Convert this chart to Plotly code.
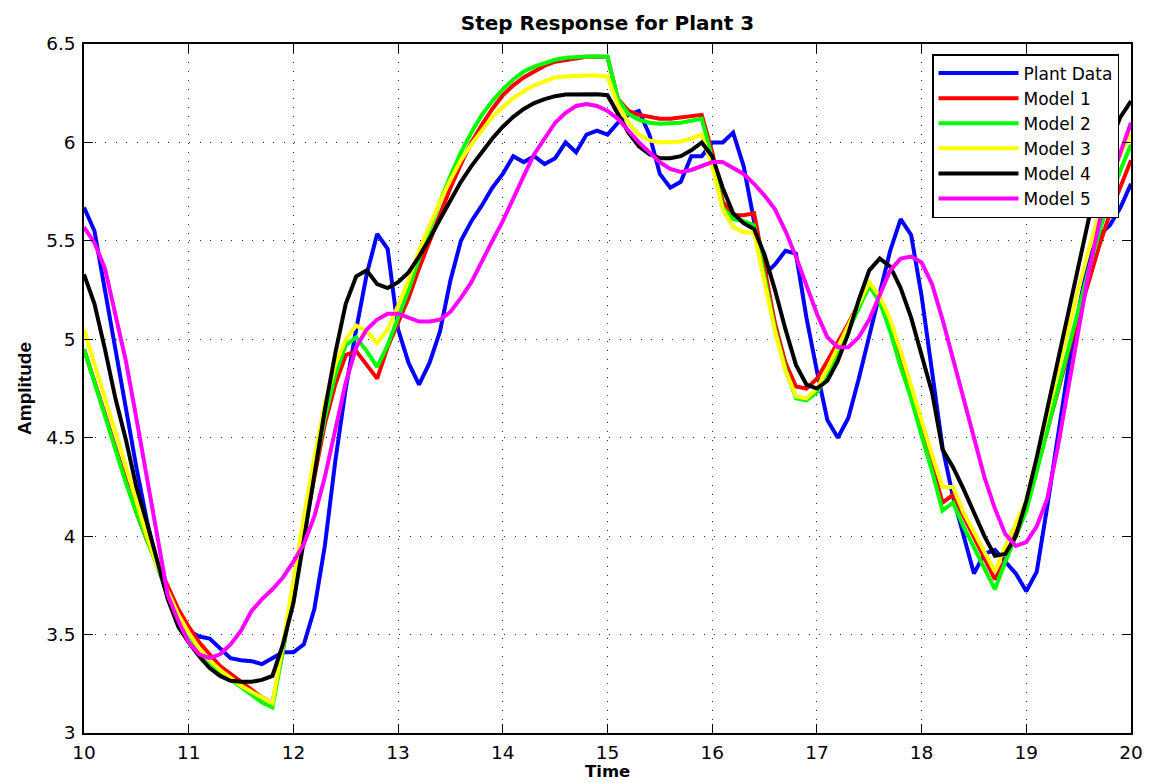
import numpy as np
import plotly.graph_objects as go

time = np.round(np.arange(101) * 0.1 + 10.0, 1)

plant_data = [5.67, 5.55, 5.25, 4.95, 4.65, 4.35, 4.08, 3.85, 3.70, 3.60,
              3.52, 3.49, 3.48, 3.43, 3.38, 3.37, 3.365, 3.35, 3.38, 3.41,
              3.41, 3.45, 3.63, 3.95, 4.38, 4.75, 5.05, 5.33, 5.535, 5.46,
              5.05, 4.88, 4.77, 4.88, 5.04, 5.30, 5.50, 5.60, 5.68, 5.77,
              5.84, 5.93, 5.90, 5.93, 5.89, 5.92, 6.00, 5.95, 6.04, 6.06,
              6.04, 6.10, 6.14, 6.16, 6.04, 5.84, 5.77, 5.80, 5.93, 5.93,
              6.00, 6.00, 6.05, 5.88, 5.60, 5.33, 5.38, 5.45, 5.435, 5.11,
              4.84, 4.59, 4.50, 4.60, 4.80, 5.02, 5.25, 5.45, 5.61, 5.53,
              5.22, 4.83, 4.45, 4.20, 4.00, 3.81, 3.91, 3.93, 3.87, 3.81,
              3.72, 3.82, 4.15, 4.50, 4.85, 5.15, 5.42, 5.53, 5.58, 5.67,
              5.79]

model_1 = [4.95, 4.79, 4.62, 4.45, 4.28, 4.12, 3.98, 3.86, 3.74, 3.63,
           3.54, 3.46, 3.40, 3.34, 3.30, 3.26, 3.22, 3.18, 3.15, 3.42,
           3.72, 4.02, 4.30, 4.57, 4.77, 4.92, 4.94, 4.87, 4.80, 4.96,
           5.08, 5.21, 5.36, 5.50, 5.64, 5.77, 5.89, 6.00, 6.09, 6.17,
           6.24, 6.29, 6.33, 6.36, 6.39, 6.41, 6.42, 6.43, 6.435, 6.435,
           6.435, 6.22, 6.16, 6.14, 6.13, 6.12, 6.12, 6.125, 6.13, 6.14,
           5.95, 5.70, 5.63, 5.63, 5.64, 5.36, 5.08, 4.88, 4.76, 4.75,
           4.80, 4.89, 4.98, 5.08, 5.18, 5.27, 5.21, 5.06, 4.89, 4.72,
           4.54, 4.36, 4.17, 4.21, 4.10, 3.99, 3.89, 3.78, 3.88, 4.02,
           4.15, 4.34, 4.54, 4.74, 4.93, 5.12, 5.30, 5.48, 5.64, 5.78,
           5.91]

model_2 = [4.95, 4.78, 4.61, 4.44, 4.27, 4.12, 3.98, 3.84, 3.71, 3.60,
           3.50, 3.42, 3.36, 3.31, 3.27, 3.23, 3.19, 3.155, 3.13, 3.42,
           3.74, 4.04, 4.33, 4.60, 4.82, 4.97, 5.01, 4.94, 4.86, 4.97,
           5.11, 5.25, 5.41, 5.56, 5.70, 5.83, 5.95, 6.05, 6.14, 6.21,
           6.27, 6.32, 6.36, 6.385, 6.405, 6.42, 6.43, 6.435, 6.437, 6.437,
           6.435, 6.22, 6.145, 6.115, 6.10, 6.095, 6.095, 6.10, 6.11, 6.12,
           5.92, 5.67, 5.61, 5.60, 5.58, 5.32, 5.05, 4.85, 4.70, 4.69,
           4.73, 4.82, 4.93, 5.04, 5.15, 5.27, 5.19, 5.04, 4.86, 4.70,
           4.51, 4.33, 4.13, 4.17, 4.05, 3.94, 3.83, 3.73, 3.87, 4.00,
           4.13, 4.33, 4.54, 4.75, 4.96, 5.16, 5.36, 5.55, 5.72, 5.86,
           5.99]

model_3 = [5.05, 4.87, 4.70, 4.53, 4.36, 4.18, 4.00, 3.85, 3.72, 3.60,
           3.51, 3.43, 3.37, 3.32, 3.28, 3.24, 3.21, 3.18, 3.15, 3.45,
           3.78, 4.10, 4.40, 4.67, 4.87, 5.00, 5.07, 5.04, 4.98, 5.05,
           5.17, 5.30, 5.45, 5.58, 5.70, 5.81, 5.91, 5.99, 6.06, 6.13,
           6.18, 6.225, 6.26, 6.29, 6.31, 6.33, 6.335, 6.34, 6.34, 6.34,
           6.335, 6.19, 6.10, 6.04, 6.01, 6.00, 6.00, 6.005, 6.02, 6.04,
           5.88, 5.66, 5.57, 5.545, 5.54, 5.30, 5.04, 4.84, 4.71, 4.70,
           4.75, 4.85, 4.96, 5.07, 5.18, 5.29, 5.22, 5.10, 4.94, 4.76,
           4.58, 4.41, 4.25, 4.25, 4.12, 4.02, 3.92, 3.82, 3.95, 4.06,
           4.18, 4.40, 4.62, 4.84, 5.05, 5.26, 5.46, 5.65, 5.81, 5.94,
           6.045]

model_4 = [5.33, 5.18, 4.95, 4.70, 4.49, 4.25, 4.07, 3.87, 3.68, 3.54,
           3.46, 3.39, 3.33, 3.29, 3.265, 3.26, 3.26, 3.27, 3.29, 3.45,
           3.66, 3.98, 4.32, 4.64, 4.93, 5.18, 5.32, 5.35, 5.28, 5.26,
           5.29, 5.34, 5.42, 5.51, 5.61, 5.71, 5.80, 5.88, 5.95, 6.02,
           6.08, 6.13, 6.17, 6.20, 6.22, 6.235, 6.243, 6.245, 6.245, 6.245,
           6.24, 6.14, 6.05, 5.98, 5.94, 5.92, 5.92, 5.93, 5.96, 6.00,
           5.93, 5.77, 5.64, 5.59, 5.56, 5.43, 5.25, 5.05, 4.87, 4.77,
           4.75, 4.79, 4.89, 5.03, 5.20, 5.35, 5.41, 5.37, 5.26, 5.11,
           4.92, 4.73, 4.44, 4.35, 4.24, 4.12, 4.00, 3.90, 3.91, 4.00,
           4.18, 4.40, 4.64, 4.88, 5.13, 5.38, 5.62, 5.83, 6.00, 6.13,
           6.21]

model_5 = [5.57, 5.49, 5.36, 5.13, 4.89, 4.60, 4.30, 3.98, 3.70, 3.57,
           3.46, 3.40, 3.38, 3.40, 3.45, 3.52, 3.62, 3.68, 3.73, 3.79,
           3.87, 3.96, 4.10, 4.30, 4.55, 4.78, 4.96, 5.05, 5.10, 5.13,
           5.13, 5.11, 5.09, 5.09, 5.10, 5.14, 5.21, 5.29, 5.40, 5.50,
           5.60, 5.72, 5.83, 5.94, 6.02, 6.10, 6.15, 6.185, 6.195, 6.185,
           6.16, 6.12, 6.06, 6.00, 5.95, 5.90, 5.865, 5.85, 5.86, 5.88,
           5.90, 5.90, 5.87, 5.84, 5.79, 5.73, 5.66, 5.55, 5.42, 5.27,
           5.13, 5.01, 4.96, 4.96, 5.01, 5.10, 5.23, 5.35, 5.41, 5.42,
           5.39, 5.28, 5.10, 4.90, 4.71, 4.50, 4.30, 4.14, 4.01, 3.95,
           3.97, 4.05, 4.19, 4.45, 4.75, 5.05, 5.35, 5.60, 5.80, 5.95,
           6.10]

series_names = ["Plant Data", "Model 1", "Model 2", "Model 3", "Model 4", "Model 5"]
series_values = [plant_data, model_1, model_2, model_3, model_4, model_5]
series_colors = ["#0000FF", "#FF0000", "#00FF00", "#FFFF00", "#000000", "#FF00FF"]

x_ticks = [10, 11, 12, 13, 14, 15, 16, 17, 18, 19, 20]
y_ticks = [3, 3.5, 4, 4.5, 5, 5.5, 6, 6.5]
y_tick_labels = ["3", "3.5", "4", "4.5", "5", "5.5", "6", "6.5"]

fig = go.Figure()
for name, vals, col in zip(series_names, series_values, series_colors):
    fig.add_trace(go.Scatter(x=time, y=vals, mode="lines", name=name,
                             line=dict(color=col, width=4)))

tick_font = dict(family="DejaVu Sans", size=18.5, color="#000000")

fig.update_layout(
    width=1151, height=783,
    margin=dict(l=84, r=20, t=44, b=50),
    paper_bgcolor="white", plot_bgcolor="white",
    title=dict(text="<b>Step Response for Plant 3</b>",
               font=dict(family="DejaVu Sans", size=20, color="#000000"),
               x=0.5, xref="paper", xanchor="center",
               y=1 - 23 / 783, yref="container", yanchor="middle"),
    showlegend=True,
    legend=dict(x=(1119 - 84) / 1047, xanchor="right",
                y=(733 - 54) / 689, yanchor="top",
                bgcolor="white", bordercolor="#000000", borderwidth=1.5,
                font=dict(family="DejaVu Sans", size=17, color="#000000"),
                tracegroupgap=0, itemwidth=80),
    xaxis=dict(range=[10, 20], tickmode="array", tickvals=x_ticks,
               ticktext=[str(v) for v in x_ticks], automargin=False,
               showline=True, linecolor="#000000", linewidth=1.5, mirror="ticks",
               ticks="inside", ticklen=9, tickcolor="#000000", tickwidth=1,
               showgrid=True, gridcolor="#333333", gridwidth=1, griddash="1px,8px",
               zeroline=False, tickfont=tick_font, ticklabelstandoff=2),
    yaxis=dict(range=[3, 6.5], tickmode="array", tickvals=y_ticks,
               ticktext=y_tick_labels, automargin=False,
               showline=True, linecolor="#000000", linewidth=1.5, mirror="ticks",
               ticks="inside", ticklen=9, tickcolor="#000000", tickwidth=1,
               showgrid=True, gridcolor="#333333", gridwidth=1, griddash="1px,9.5px",
               zeroline=False, tickfont=tick_font, ticklabelstandoff=3,
               title=dict(text="<b>Amplitude</b>",
                          font=dict(family="Liberation Sans", size=19, color="#000000"),
                          standoff=9)),
    annotations=[dict(text="<b>Time</b>", xref="paper", yref="paper",
                      x=0.5, y=0, xanchor="center", yanchor="top",
                      yshift=-28, showarrow=False, borderpad=0,
                      font=dict(family="DejaVu Sans", size=16.5, color="#000000"))],
)

fig.write_html("out.html")
